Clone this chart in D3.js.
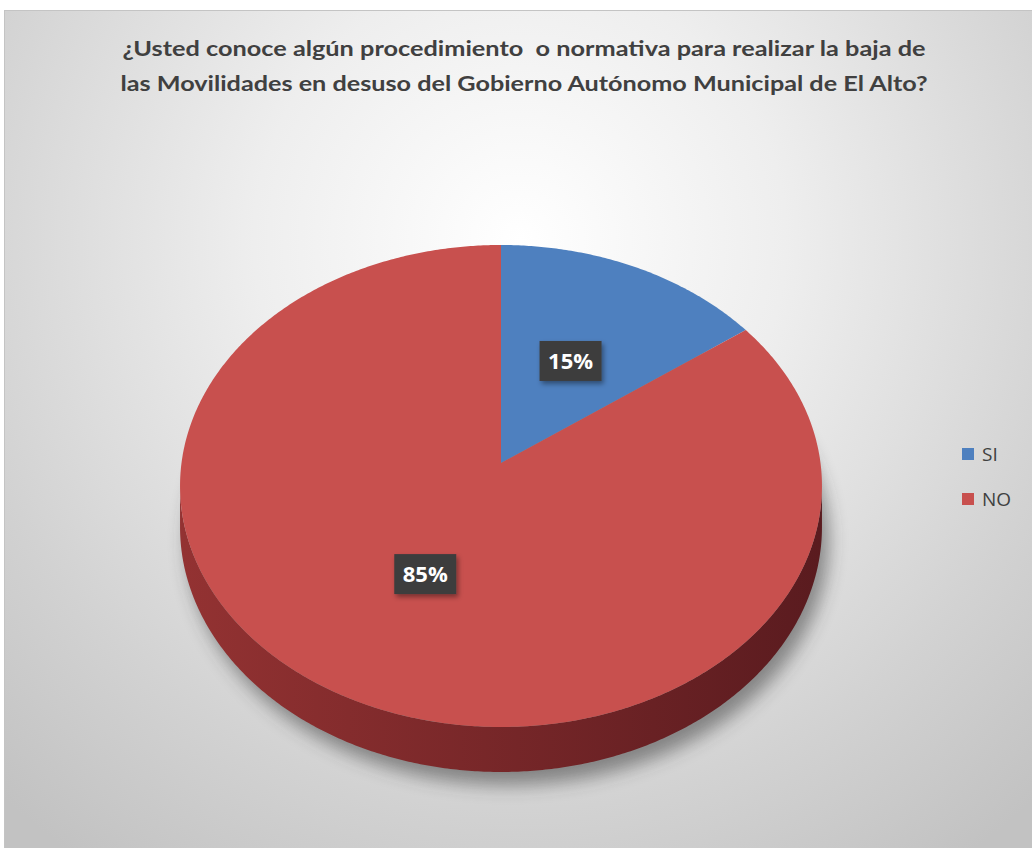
<!DOCTYPE html>
<html>
<head>
<meta charset="utf-8">
<script src="https://cdn.jsdelivr.net/npm/d3@7"></script>
<style>
  html, body { margin: 0; padding: 0; background: #ffffff; }
  svg { display: block; }
  svg text { white-space: pre; }
</style>
</head>
<body>
<svg id="chart" width="1032" height="848"></svg>
<script>
// Survey answers
const categories = ["SI", "NO"];
const values = [15, 85];
const labels = ["15%", "85%"];
const titleLines = [
  "¿Usted conoce algún procedimiento  o normativa para realizar la baja de",
  "las Movilidades en desuso del Gobierno Autónomo Municipal de El Alto?"
];
const topColors = ["#4e80bf", "#c8504e"];
const sideColors = [["#3b6396", "#2c4a70"], ["#933232", "#5a1b1f"]];

const svg = d3.select("#chart");
const defs = svg.append("defs");

// Chart-area background: light radial wash
const bg = defs.append("radialGradient").attr("id", "bgGrad")
  .attr("gradientUnits", "userSpaceOnUse")
  .attr("cx", 520).attr("cy", 240).attr("r", 760);
bg.append("stop").attr("offset", "0%").attr("stop-color", "#ffffff");
bg.append("stop").attr("offset", "35%").attr("stop-color", "#eeeeee");
bg.append("stop").attr("offset", "75%").attr("stop-color", "#d2d2d2");
bg.append("stop").attr("offset", "100%").attr("stop-color", "#c2c2c2");

svg.append("rect")
  .attr("x", 4.5).attr("y", 10.5).attr("width", 1040).attr("height", 850)
  .attr("fill", "url(#bgGrad)").attr("stroke", "#c4c4c4").attr("stroke-width", 1);

// Title
const title = svg.append("g").attr("font-family", "Lato, 'Open Sans', sans-serif")
  .attr("font-weight", 700).attr("font-size", 21).attr("fill", "#404040");
title.selectAll("text").data(titleLines).join("text")
  .attr("x", 524).attr("y", (d, i) => 56 + i * 35)
  .attr("text-anchor", "middle")
  .attr("textLength", (d, i) => i === 0 ? 803 : 807)
  .attr("lengthAdjust", "spacingAndGlyphs")
  .text(d => d);

// Perspective projection of a tilted disc (angle measured clockwise from the far side)
const P = { cx: 501, cy: 463, a: 319.5, b: 238.8, c: 0.0954, depth: 40.7 };
function proj(theta, r, drop) {
  const x = r * Math.sin(theta), z = r * Math.cos(theta);
  const w = 1 + P.c * z;
  return [P.cx + P.a * x / w, P.cy - P.b * z / w + drop * P.depth / w];
}
function rimPoints(a0, a1, drop) {
  const n = Math.max(2, Math.ceil(Math.abs(a1 - a0) / (Math.PI / 360)));
  return d3.range(n + 1).map(i => proj(a0 + (a1 - a0) * i / n, 1, drop));
}
const line = d3.line().curve(d3.curveLinear);

const pie = d3.pie().sort(null).value(d => d)
  .startAngle(0).endAngle(2 * Math.PI);
const arcs = pie(values);

// Soft drop shadow under the disc
const blur = defs.append("filter").attr("id", "soft")
  .attr("x", "-20%").attr("y", "-20%").attr("width", "140%").attr("height", "140%");
blur.append("feGaussianBlur").attr("stdDeviation", 9);
svg.append("path")
  .attr("d", line(rimPoints(0, 2 * Math.PI, 1)) + "Z")
  .attr("transform", "translate(7,13)")
  .attr("fill", "#333333").attr("opacity", 0.5)
  .attr("filter", "url(#soft)");

// Visible part of the rim (front half, between the silhouette extremes)
const visA0 = Math.acos(-P.c), visA1 = 2 * Math.PI - Math.acos(-P.c);

arcs.forEach((d, i) => {
  const a0 = Math.max(d.startAngle, visA0), a1 = Math.min(d.endAngle, visA1);
  if (a1 <= a0) return;
  const gid = "side" + i;
  const g = defs.append("linearGradient").attr("id", gid)
    .attr("gradientUnits", "userSpaceOnUse")
    .attr("x1", P.cx - P.a).attr("y1", 0).attr("x2", P.cx + P.a).attr("y2", 0);
  g.append("stop").attr("offset", "0%").attr("stop-color", sideColors[i][0]);
  g.append("stop").attr("offset", "100%").attr("stop-color", sideColors[i][1]);
  const top = rimPoints(a0, a1, 0);
  const bottom = rimPoints(a1, a0, 1);
  svg.append("path")
    .attr("d", line(top.concat(bottom)) + "Z")
    .attr("fill", "url(#" + gid + ")");
});

// Top faces
svg.append("g").selectAll("path").data(arcs).join("path")
  .attr("d", d => line([proj(0, 0, 0)].concat(rimPoints(d.startAngle, d.endAngle, 0))) + "Z")
  .attr("fill", (d, i) => topColors[i]);

// Data labels in dark boxes
const shadow = defs.append("filter").attr("id", "boxShadow")
  .attr("x", "-30%").attr("y", "-30%").attr("width", "170%").attr("height", "170%");
shadow.append("feDropShadow").attr("dx", 2).attr("dy", 3).attr("stdDeviation", 2.5)
  .attr("flood-color", "#000").attr("flood-opacity", 0.4);

const lab = svg.append("g").selectAll("g").data(arcs).join("g")
  .attr("transform", d => {
    const p = proj((d.startAngle + d.endAngle) / 2, 0.5, 0);
    return `translate(${p[0]},${p[1]})`;
  });
lab.append("rect")
  .attr("x", -31).attr("y", -20).attr("width", 62).attr("height", 40)
  .attr("fill", "#3c3c3e").attr("filter", "url(#boxShadow)");
lab.append("text")
  .attr("text-anchor", "middle").attr("y", 8)
  .attr("font-family", "'Open Sans', Lato, sans-serif").attr("font-weight", 700)
  .attr("font-size", 22).attr("fill", "#ffffff")
  .text((d, i) => labels[i]);

// Legend
const legend = svg.append("g").selectAll("g").data(categories).join("g")
  .attr("transform", (d, i) => `translate(962,${448 + i * 45})`);
legend.append("rect").attr("width", 12).attr("height", 12)
  .attr("fill", (d, i) => topColors[i]);
legend.append("text").attr("x", 20).attr("y", 13)
  .attr("font-family", "'Open Sans', Lato, sans-serif").attr("font-size", 19)
  .attr("fill", "#404040").text(d => d);
</script>
</body>
</html>
